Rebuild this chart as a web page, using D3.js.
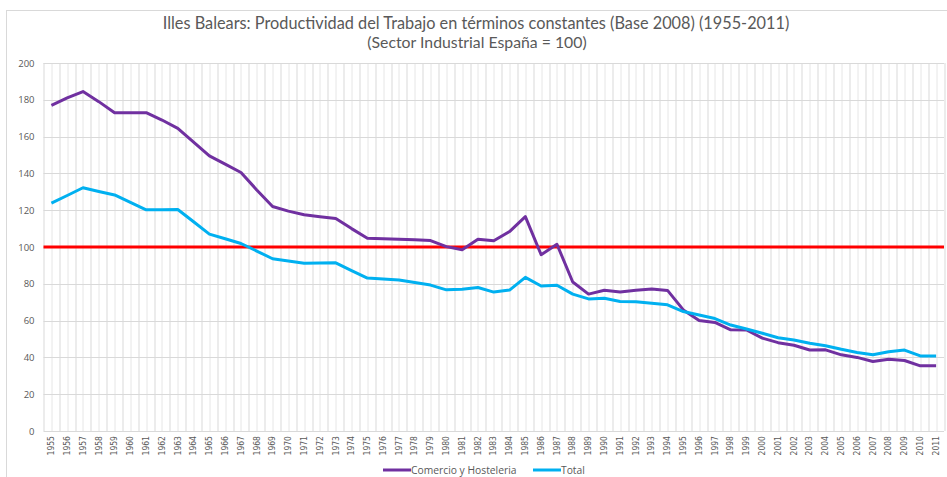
<!DOCTYPE html>
<html>
<head>
<meta charset="utf-8">
<script src="https://cdn.jsdelivr.net/npm/d3@7"></script>
<style>
  body { margin: 0; background: #fff; }
  .axis text { fill: #595959; font-family: "Liberation Sans Narrow", "DejaVu Sans Condensed", sans-serif; }
  .axis path, .axis line { display: none; }
  .title { fill: #595959; font-family: Lato, "Open Sans", sans-serif; }
  .legend text { fill: #595959; font-family: "Open Sans", sans-serif; font-size: 10.3px; }
</style>
</head>
<body>
<svg id="chart"></svg>
<script>
const years = d3.range(1955, 2012);

const comercio = [
  177, 181, 184.5, 179, 173, 173, 173, 169, 164.5, 157,
  149.5, 145, 140.5, 131, 122, 119.5, 117.5, 116.5, 115.5, 110,
  104.8, 104.5, 104.2, 104, 103.5, 100.2, 98.5, 104.2, 103.4, 108.4,
  116.5, 95.8, 101.5, 81, 74.4, 76.5, 75.6, 76.5, 77.2, 76.4,
  65.8, 60, 59, 55, 54.9, 50.5, 48, 46.6, 44, 44.1,
  41.4, 40, 37.8, 39, 38.3, 35.4, 35.4
];

const total = [
  123.8, 128, 132.2, 130.2, 128.3, 124.2, 120.2, 120.3, 120.4, 113.7,
  107, 104.5, 101.9, 97.8, 93.6, 92.4, 91.2, 91.3, 91.4, 87.2,
  83.1, 82.6, 82.1, 80.7, 79.3, 76.7, 77, 78, 75.5, 76.6,
  83.5, 78.8, 79.2, 74.4, 71.8, 72.1, 70.4, 70.3, 69.4, 68.6,
  64.9, 63, 61.1, 57.6, 55.4, 53.1, 50.7, 49.5, 47.7, 46.3,
  44.4, 42.7, 41.4, 43.1, 44, 40.8, 40.8
];

const referencia = 100; // Sector Industrial España = 100
const yTicks = [0, 20, 40, 60, 80, 100, 120, 140, 160, 180, 200];

const seriesNames = ['Comercio y Hosteleria', 'Total'];
const seriesColors = ['#7030a0', '#00b0f0'];

class LineChart {

  constructor(_config) {
    this.config = {
      parentElement: _config.parentElement,
      containerWidth: _config.containerWidth || 947,
      containerHeight: _config.containerHeight || 477,
      margin: _config.margin || { top: 63, right: 3, bottom: 46, left: 43.5 }
    };
    this.initVis();
  }

  initVis() {
    let vis = this;

    vis.width = vis.config.containerWidth - vis.config.margin.left - vis.config.margin.right;
    vis.height = vis.config.containerHeight - vis.config.margin.top - vis.config.margin.bottom;

    vis.xScale = d3.scaleBand()
      .domain(years)
      .range([0, vis.width])
      .padding(0);

    vis.yScale = d3.scaleLinear()
      .domain([0, 200])
      .range([vis.height, 0]);

    vis.xAxis = d3.axisBottom(vis.xScale)
      .tickSize(0)
      .tickPadding(0);

    vis.yAxis = d3.axisLeft(vis.yScale)
      .tickValues(yTicks)
      .tickSize(0)
      .tickPadding(9);

    vis.svg = d3.select(vis.config.parentElement)
      .attr('width', vis.config.containerWidth)
      .attr('height', vis.config.containerHeight);

    // outer frame of the chart area, only top and left edges show
    vis.svg.append('rect')
      .attr('x', 6.5)
      .attr('y', 10.5)
      .attr('width', 980)
      .attr('height', 500)
      .attr('fill', 'none')
      .attr('stroke', '#d9d9d9');

    vis.svg.append('text')
      .attr('class', 'title')
      .attr('text-anchor', 'middle')
      .attr('x', 476)
      .attr('y', 28.5)
      .attr('font-size', 16.3)
      .text('Illes Balears: Productividad del Trabajo en términos constantes (Base 2008) (1955-2011)');

    vis.svg.append('text')
      .attr('class', 'title')
      .attr('text-anchor', 'middle')
      .attr('x', 477)
      .attr('y', 47.5)
      .attr('font-size', 15.8)
      .text('(Sector Industrial España = 100)');

    vis.chart = vis.svg.append('g')
      .attr('transform', `translate(${vis.config.margin.left},${vis.config.margin.top})`);

    vis.grid = vis.chart.append('g');
    vis.xAxisG = vis.chart.append('g')
      .attr('class', 'axis x-axis')
      .attr('transform', `translate(0,${vis.height})`);
    vis.yAxisG = vis.chart.append('g')
      .attr('class', 'axis y-axis');
    vis.marks = vis.chart.append('g');
    vis.legend = vis.svg.append('g').attr('class', 'legend');
  }

  updateVis() {
    let vis = this;
    vis.xValue = (d, i) => years[i];
    vis.line = d3.line()
      .x((d, i) => vis.xScale(vis.xValue(d, i)) + vis.xScale.bandwidth() / 2)
      .y(d => vis.yScale(d));
    vis.renderVis();
  }

  renderVis() {
    let vis = this;
    const bw = vis.xScale.bandwidth();

    // vertical grid: category boundaries and centres
    vis.grid.selectAll('.vgrid-b')
      .data(years.concat([null]))
      .join('line')
      .attr('class', 'vgrid-b')
      .attr('x1', (d, i) => Math.round(i * bw) + 0.5)
      .attr('x2', (d, i) => Math.round(i * bw) + 0.5)
      .attr('y1', 0)
      .attr('y2', vis.height)
      .attr('stroke', '#d9d9d9');

    vis.grid.selectAll('.vgrid-c')
      .data(years)
      .join('line')
      .attr('class', 'vgrid-c')
      .attr('x1', d => Math.round(vis.xScale(d) + bw / 2) + 0.5)
      .attr('x2', d => Math.round(vis.xScale(d) + bw / 2) + 0.5)
      .attr('y1', 0)
      .attr('y2', vis.height)
      .attr('stroke', '#e6e6e6');

    vis.grid.selectAll('.hgrid')
      .data(yTicks)
      .join('line')
      .attr('class', 'hgrid')
      .attr('x1', 0)
      .attr('x2', vis.width)
      .attr('y1', d => Math.round(vis.yScale(d)) + 0.5)
      .attr('y2', d => Math.round(vis.yScale(d)) + 0.5)
      .attr('stroke', '#d9d9d9');

    vis.xAxisG.call(vis.xAxis);
    vis.xAxisG.selectAll('text')
      .attr('font-size', 8.5)
      .attr('text-anchor', 'end')
      .attr('dy', '0.32em')
      .attr('transform', 'translate(0,5) rotate(-90)')
      .attr('y', 0)
      .attr('x', 0);

    vis.yAxisG.call(vis.yAxis);
    vis.yAxisG.selectAll('text')
      .attr('font-size', 9.5)
      .style('font-family', '"Open Sans", sans-serif');

    // reference line across the whole plot
    vis.marks.append('line')
      .attr('x1', 0)
      .attr('x2', vis.width)
      .attr('y1', vis.yScale(referencia))
      .attr('y2', vis.yScale(referencia))
      .attr('stroke', '#ff0000')
      .attr('stroke-width', 3);

    vis.marks.selectAll('.chart-line')
      .data([comercio, total])
      .join('path')
      .attr('class', 'chart-line')
      .attr('fill', 'none')
      .attr('stroke', (d, i) => seriesColors[i])
      .attr('stroke-width', 3)
      .attr('stroke-linejoin', 'round')
      .attr('d', vis.line);

    // legend
    const legendX = [383, 533];
    const items = vis.legend.selectAll('g')
      .data(seriesNames)
      .join('g')
      .attr('transform', (d, i) => `translate(${legendX[i]},470)`);
    items.append('line')
      .attr('x1', 0)
      .attr('x2', 28)
      .attr('stroke', (d, i) => seriesColors[i])
      .attr('stroke-width', 3);
    items.append('text')
      .attr('x', 28)
      .attr('dy', '0.35em')
      .text(d => d);
  }
}

const chart = new LineChart({ parentElement: '#chart' });
chart.updateVis();
</script>
</body>
</html>
